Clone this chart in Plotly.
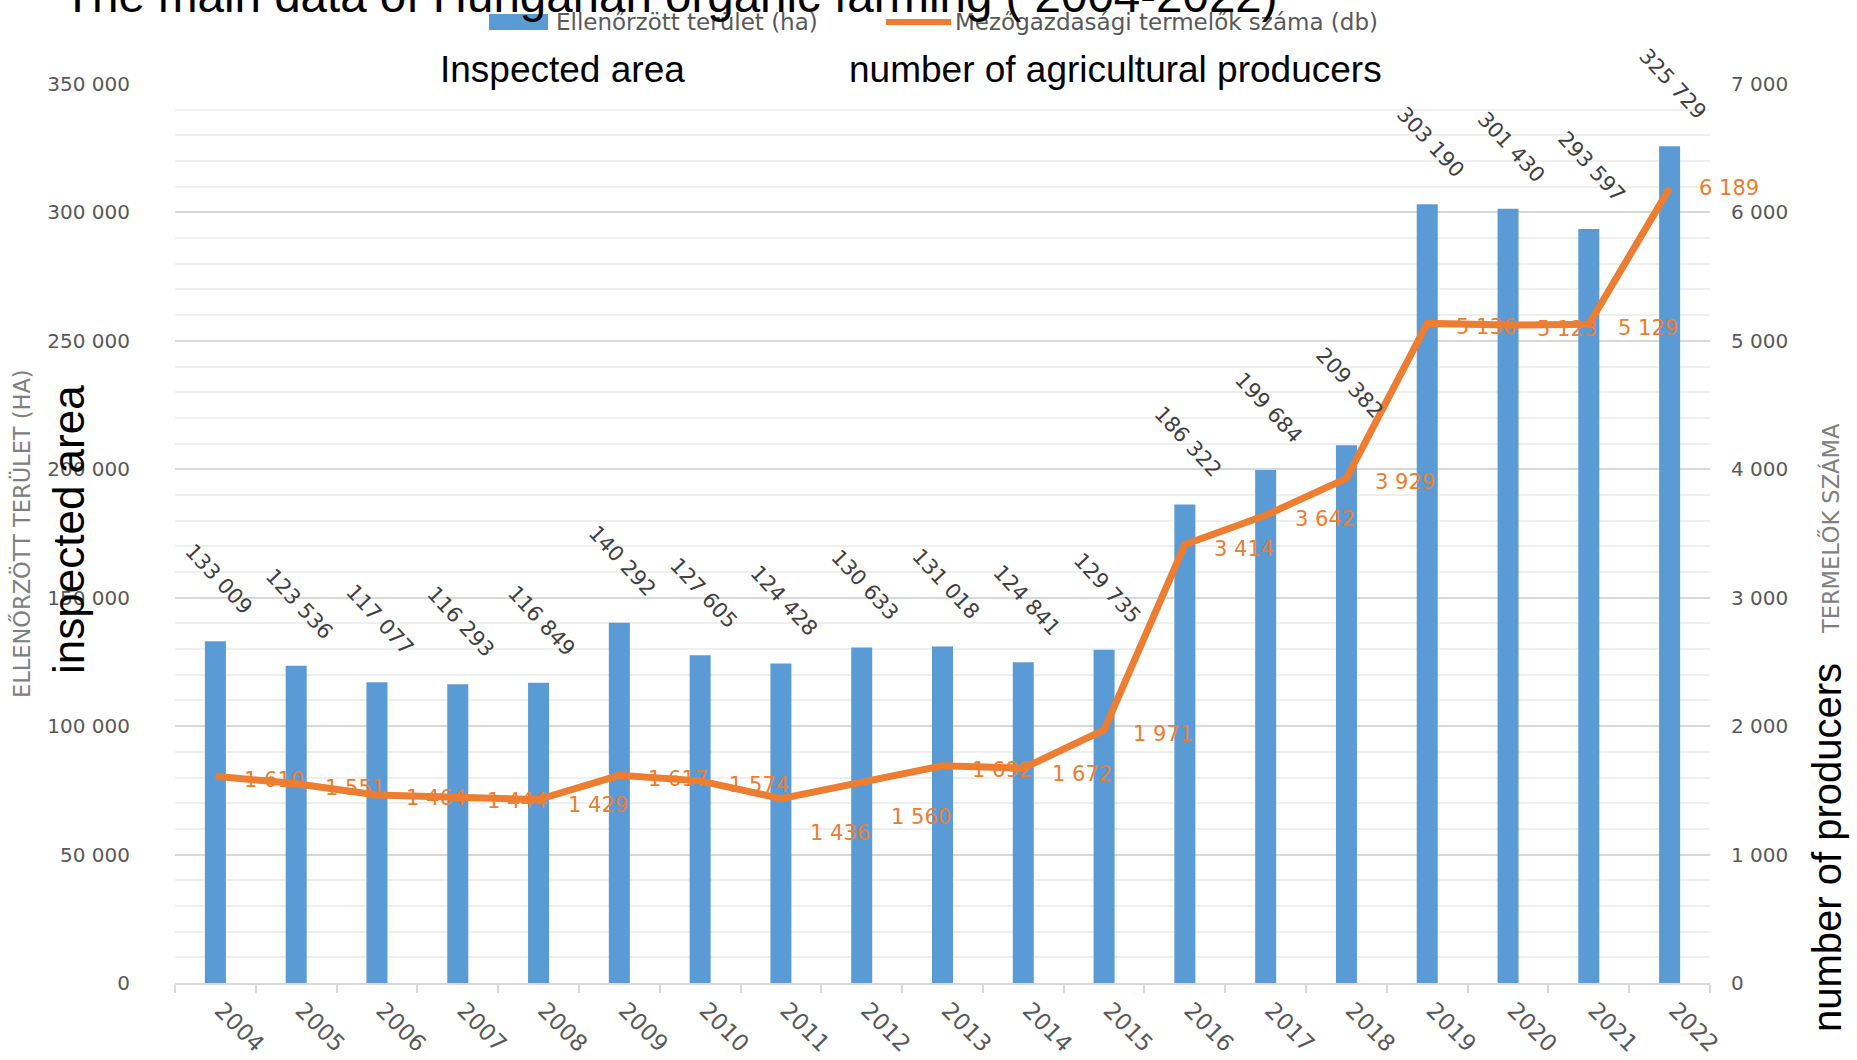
import plotly.graph_objects as go

# ---------------- data ----------------
years = [str(y) for y in range(2004, 2023)]
area_ha = [133009, 123536, 117077, 116293, 116849, 140292, 127605, 124428,
           130633, 131018, 124841, 129735, 186322, 199684, 209382, 303190,
           301430, 293597, 325729]
producers = [1610, 1551, 1464, 1444, 1429, 1617, 1574, 1436, 1560, 1692,
             1672, 1971, 3414, 3642, 3929, 5136, 5123, 5129, 6189]

bar_name = "Ellenőrzött terület (ha)"
line_name = "Mezőgazdasági termelők száma (db)"
left_title = "ELLENŐRZÖTT TERÜLET (HA)"
right_title = "TERMELŐK SZÁMA"
title_en = "The main data of Hungarian organic farming ( 2004-2022)"
en_bar = "Inspected area"
en_line = "number of agricultural producers"
en_left = "inspected area"
en_right = "number of producers"

# label placement style (pixel offsets of the orange labels, downward)
line_label_dy = [4, 4, 3, 3, 6, 4, 4, 34, 34, 4, 6, 4, 4, 4, 4, 4, 4, 4, 0]

# ---------------- layout geometry ----------------
W, H = 1857, 1060
ml, mr, mt, mb = 175, 147, 84, 77
pw, ph = W - ml - mr, H - mt - mb


def px(x):
    return (x - ml) / pw


def py(y):
    return (H - mb - y) / ph


BLUE = "#5B9BD5"
ORANGE = "#ED7D31"
GRAY_T = "#595959"
GRAY_L = "#404040"
SANS = "DejaVu Sans"
ARIAL = "Liberation Sans, Arial"


def fmt(v):
    return f"{v:,}".replace(",", " ")


fig = go.Figure()
fig.add_trace(go.Bar(x=years, y=area_ha, name=bar_name, marker_color=BLUE,
                     marker_line_width=0))
fig.add_trace(go.Scatter(x=years, y=producers, name=line_name, yaxis="y2",
                         mode="lines", line=dict(color=ORANGE, width=7)))

ann = []
# bar value labels (category axis -> serial index positions)
for i, v in enumerate(area_ha):
    ann.append(dict(x=i, y=v, xref="x", yref="y", text=fmt(v), showarrow=False,
                    textangle=47, xanchor="center", yanchor="middle",
                    xshift=3, yshift=62,
                    font=dict(family=SANS, size=21, color=GRAY_L)))
# line value labels
for i, v in enumerate(producers):
    ann.append(dict(x=i, y=v, xref="x", yref="y2", text=fmt(v), showarrow=False,
                    xanchor="left", yanchor="middle", xshift=27,
                    yshift=-line_label_dy[i],
                    font=dict(family=SANS, size=21, color=ORANGE)))

# legend texts
ann.append(dict(x=px(554), y=py(22), xref="paper", yref="paper", text=bar_name,
                showarrow=False, xanchor="left", yanchor="middle",
                font=dict(family=SANS, size=23, color=GRAY_T)))
ann.append(dict(x=px(953), y=py(22), xref="paper", yref="paper", text=line_name,
                showarrow=False, xanchor="left", yanchor="middle",
                font=dict(family=SANS, size=23, color=GRAY_T)))
# axis titles
ann.append(dict(x=px(21), y=py(534), xref="paper", yref="paper", text=left_title,
                showarrow=False, textangle=-90, xanchor="center", yanchor="middle",
                font=dict(family=SANS, size=22.5, color="#808080")))
ann.append(dict(x=px(1830), y=py(529), xref="paper", yref="paper", text=right_title,
                showarrow=False, textangle=-90, xanchor="center", yanchor="middle",
                font=dict(family=SANS, size=22.5, color="#808080")))
# english overlay texts
ann.append(dict(x=px(61), y=py(-4), xref="paper", yref="paper", text=title_en,
                showarrow=False, xanchor="left", yanchor="middle",
                font=dict(family=ARIAL, size=47.5, color="black")))
ann.append(dict(x=px(438), y=py(70), xref="paper", yref="paper", text=en_bar,
                showarrow=False, xanchor="left", yanchor="middle",
                font=dict(family=ARIAL, size=37, color="black")))
ann.append(dict(x=px(847), y=py(70), xref="paper", yref="paper", text=en_line,
                showarrow=False, xanchor="left", yanchor="middle",
                font=dict(family=ARIAL, size=37, color="black")))
ann.append(dict(x=px(68), y=py(530), xref="paper", yref="paper", text=en_left,
                showarrow=False, textangle=-90, xanchor="center", yanchor="middle",
                font=dict(family=ARIAL, size=44, color="black")))
ann.append(dict(x=px(1827), y=py(847), xref="paper", yref="paper", text=en_right,
                showarrow=False, textangle=-90, xanchor="center", yanchor="middle",
                font=dict(family=ARIAL, size=40, color="black")))

shapes = [
    dict(type="rect", xref="paper", yref="paper", x0=px(489), x1=px(548),
         y0=py(30), y1=py(14), fillcolor=BLUE, line=dict(width=0)),
    dict(type="line", xref="paper", yref="paper", x0=px(886), x1=px(951),
         y0=py(22), y1=py(22), line=dict(color=ORANGE, width=6)),
]

fig.update_layout(
    width=W, height=H, autosize=False,
    margin=dict(l=ml, r=mr, t=mt, b=mb, pad=0, autoexpand=False),
    paper_bgcolor="white", plot_bgcolor="white",
    showlegend=False, separators=", ",
    bargap=0.74,
    annotations=ann, shapes=shapes,
    xaxis=dict(type="category", tickangle=45, range=[-0.5, len(years) - 0.5],
               automargin=False,
               tickfont=dict(family=SANS, size=23, color=GRAY_T),
               ticks="outside", tickson="boundaries", ticklen=8,
               tickcolor="#d9d9d9", tickwidth=1.5,
               showline=True, linecolor="#d9d9d9", linewidth=1.5,
               showgrid=False, ticklabelstandoff=3, ticklabelshift=6),
    yaxis=dict(range=[0, 350000], dtick=50000, tickformat=",", automargin=False,
               showgrid=True, gridcolor="#d9d9d9", gridwidth=1.5,
               minor=dict(dtick=10000, showgrid=True, gridcolor="#efefef",
                          gridwidth=1.5),
               zeroline=False, showline=False, ticks="",
               ticklabelstandoff=44,
               tickfont=dict(family=SANS, size=20, color=GRAY_T)),
    yaxis2=dict(range=[0, 7000], dtick=1000, tickformat=",", automargin=False,
                overlaying="y", side="right", showgrid=False,
                zeroline=False, showline=False, ticks="",
                ticklabelstandoff=20,
                tickfont=dict(family=SANS, size=20, color=GRAY_T)),
)

fig.write_html("out.html", config={"displayModeBar": False},
               post_script="document.body.style.margin='0';")
